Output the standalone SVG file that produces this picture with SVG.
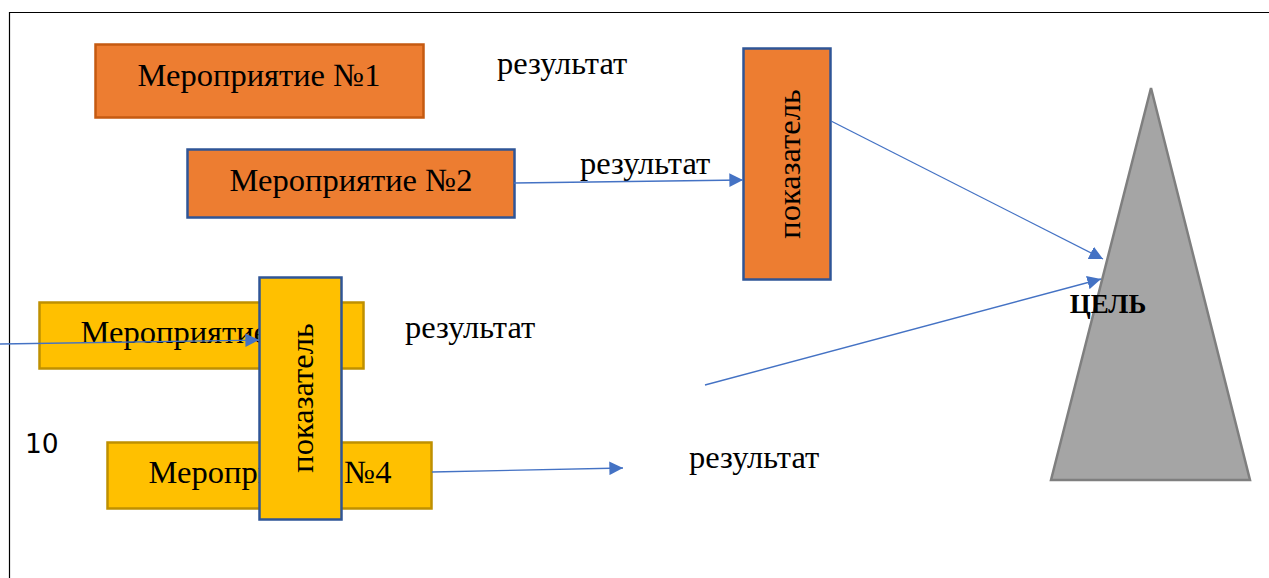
<svg xmlns="http://www.w3.org/2000/svg" width="1269" height="578" viewBox="0 0 1269 578">
<style>
.t{font-family:"Liberation Serif","Times New Roman",serif;font-size:32.5px;fill:#000}
.or{fill:#ED7D31}
.ye{fill:#FFC000}
.c{stroke:#4472C4;stroke-width:1.3;fill:none}
</style>
<defs>
<marker id="ah" viewBox="0 0 10 10" refX="10" refY="5" markerWidth="10.5" markerHeight="10.5" markerUnits="strokeWidth" orient="auto">
<path d="M0,0 L10,5 L0,10 z" fill="#4472C4"/>
</marker>
</defs>
<rect width="1269" height="578" fill="#fff"/>
<path d="M9.5,578 V12.5 H1269" stroke="#000" stroke-width="1.2" fill="none"/>
<g id="m1"><rect class="or" x="95.5" y="44.5" width="328" height="73" stroke="#C55A11" stroke-width="2.5"/><text class="t" x="259" y="86" text-anchor="middle">Мероприятие №1</text></g>
<g id="m2"><rect class="or" x="187.5" y="149.5" width="327" height="68" stroke="#2F5597" stroke-width="2.5"/><text class="t" x="351" y="191" text-anchor="middle">Мероприятие №2</text></g>
<g id="m3"><rect class="ye" x="39.5" y="302.5" width="324" height="66" stroke="#BF9000" stroke-width="2.5"/><text class="t" x="202" y="343" text-anchor="middle">Мероприятие №3</text></g>
<g id="m4"><rect class="ye" x="107.5" y="442.5" width="324" height="66" stroke="#BF9000" stroke-width="2.5"/><text class="t" x="270" y="483" text-anchor="middle">Мероприятие №4</text></g>
<g id="p1"><rect class="or" x="743.5" y="48.5" width="87" height="231" stroke="#2F5597" stroke-width="2.5"/><text class="t" transform="translate(800,164) rotate(-90)" text-anchor="middle">показатель</text></g>
<g id="p2"><rect class="ye" x="259.5" y="277.5" width="82" height="242" stroke="#2F5597" stroke-width="2.5"/><text class="t" transform="translate(313,398) rotate(-90)" text-anchor="middle">показатель</text></g>
<g id="goal"><polygon points="1151,88 1250,480 1051,480" fill="#A5A5A5" stroke="#7F7F7F" stroke-width="2.5"/><text x="1108" y="313" text-anchor="middle" font-family="Liberation Serif,serif" font-weight="bold" font-size="27">ЦЕЛЬ</text></g>
<g id="labels">
<text class="t" x="497" y="74">результат</text>
<text class="t" x="580" y="174">результат</text>
<text class="t" x="405" y="338">результат</text>
<text class="t" x="689" y="468">результат</text>
<text x="25" y="453" font-family="DejaVu Sans,sans-serif" font-size="26.5">10</text>
</g>
<g id="connectors">
<path class="c" d="M0,344 L259,340" marker-end="url(#ah)"/>
<path class="c" d="M514,183 L743,180" marker-end="url(#ah)"/>
<path class="c" d="M831,121 L1103,259" marker-end="url(#ah)"/>
<path class="c" d="M705,385 L1101,279" marker-end="url(#ah)"/>
<path class="c" d="M432,472 L623,468" marker-end="url(#ah)"/>
</g>
</svg>
